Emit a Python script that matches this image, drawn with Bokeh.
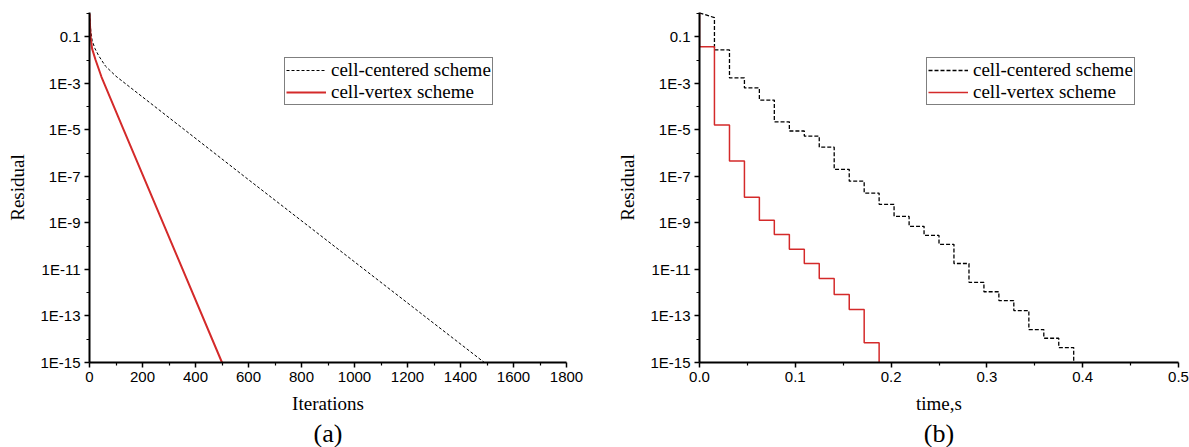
from bokeh.plotting import figure
from bokeh.layouts import row
from bokeh.models import (Range1d, FixedTicker, CustomJSTickFormatter, Legend,
                          LegendItem, Title, PrintfTickFormatter)
from bokeh.embed import file_html
from bokeh.resources import INLINE

# ---------------- data: (a) residual vs iterations ----------------
iter_cc = [0, 5, 10, 20, 35, 60, 100, 589, 1490]
res_cc = [1.0, 0.18, 0.07, 0.032, 0.015, 5.5e-3, 2.0e-3, 9e-8, 1e-15]
iter_cv = [0, 2, 4, 10, 23, 45, 129, 500]
res_cv = [1.0, 0.3, 0.1, 0.03, 0.01, 1.9e-3, 1e-5, 1e-15]

# ---------------- data: (b) residual vs time (staircase) ----------------
times = [0.0, 0.0156, 0.0313, 0.0469, 0.0625, 0.0781, 0.0938, 0.1094, 0.125,
         0.1406, 0.1563, 0.1719, 0.1875, 0.2031, 0.2188, 0.2344, 0.25, 0.2656,
         0.2813, 0.2969, 0.3125, 0.3281, 0.3438, 0.3594, 0.375, 0.3906]
cc_first = [1.07, 0.66]          # first (sloped) segment of cell-centered
cc_steps = [2.7e-2, 1.7e-3, 6.3e-4, 1.9e-4, 2.2e-5, 8.9e-6, 5.4e-6, 1.8e-6,
            2.0e-7, 6.2e-8, 1.9e-8, 6.3e-9, 1.9e-9, 7.1e-10, 2.9e-10, 1.2e-10,
            1.8e-11, 2.8e-12, 1.1e-12, 4.6e-13, 1.7e-13, 2.6e-14, 1.1e-14,
            4.4e-15, 1e-15]      # values from times[1] .. times[25]
cv_start = 1.07
cv_steps = [0.037, 1.6e-5, 4.6e-7, 1.26e-8, 1.3e-9, 3.2e-10, 7.3e-11, 1.8e-11,
            4.1e-12, 8.3e-13, 1.9e-13, 7.1e-15, 1e-15]  # times[0] .. times[12]

y_major = [1e-15, 1e-13, 1e-11, 1e-9, 1e-7, 1e-5, 1e-3, 0.1]
y_minor = [1e-14, 1e-12, 1e-10, 1e-8, 1e-6, 1e-4, 1e-2, 1.0]
xa_major = [0, 200, 400, 600, 800, 1000, 1200, 1400, 1600, 1800]
xa_minor = [100, 300, 500, 700, 900, 1100, 1300, 1500, 1700]
xb_major = [0.0, 0.1, 0.2, 0.3, 0.4, 0.5]
xb_minor = [0.05, 0.15, 0.25, 0.35, 0.45]

RED = "#d42a2a"
SERIF = "Liberation Serif"
SANS = "Liberation Sans"


def staircase(ts, vals, start_x=None, start_y=None):
    xs, ys = [], []
    if start_x is not None:
        xs += list(start_x)
        ys += list(start_y)
    n = len(vals)
    for k in range(n - 1):
        xs += [ts[k], ts[k + 1]]
        ys += [vals[k], vals[k]]
    xs.append(ts[n - 1])
    ys.append(vals[n - 1])
    return xs, ys


fmt_js = """
const e = Math.round(Math.log10(tick));
if (e == -1) { return '0.1'; }
return '1E' + e;
"""


def make_fig(width, bl, br, xr, xmaj, xmin, xlabel, title):
    p = figure(width=width, height=447, y_axis_type="log",
               x_range=xr, y_range=Range1d(1e-15, 1.1),
               output_backend="svg", toolbar_location=None,
               min_border_left=bl, min_border_right=br,
               min_border_top=12, min_border_bottom=85)
    p.outline_line_color = None
    p.xgrid.visible = False
    p.ygrid.visible = False
    p.background_fill_color = "white"
    p.border_fill_color = "white"
    p.xaxis.ticker = FixedTicker(ticks=xmaj, minor_ticks=xmin)
    p.yaxis.ticker = FixedTicker(ticks=y_major, minor_ticks=y_minor)
    p.yaxis.formatter = CustomJSTickFormatter(code=fmt_js)
    for ax in (p.xaxis, p.yaxis):
        ax.axis_line_width = 2
        ax.axis_line_color = "black"
        ax.major_tick_line_color = "black"
        ax.minor_tick_line_color = "black"
        ax.major_tick_line_width = 1.5
        ax.minor_tick_line_width = 1.2
        ax.major_tick_in = 0
        ax.major_tick_out = 5
        ax.minor_tick_in = 0
        ax.minor_tick_out = 3
        ax.major_label_text_font = SANS
        ax.major_label_text_font_size = "15px"
        ax.major_label_text_color = "black"
        ax.major_label_standoff = 4
        ax.axis_label_text_font = SERIF
        ax.axis_label_text_font_size = "19px"
        ax.axis_label_text_font_style = "normal"
        ax.axis_label_text_color = "black"
    p.yaxis.axis_label = "Residual"
    p.yaxis.axis_label_standoff = 9
    p.xaxis.axis_label = xlabel
    p.xaxis.axis_label_standoff = 8
    t = Title(text=title, align="center", text_font=SERIF,
              text_font_size="26px", text_font_style="normal",
              text_color="black", standoff=0, offset=0)
    p.add_layout(t, "below")
    return p


def add_legend(p, r1, r2, x, y):
    leg = Legend(items=[LegendItem(label="cell-centered scheme", renderers=[r1]),
                        LegendItem(label="cell-vertex scheme", renderers=[r2])],
                 location=(x, y))
    leg.border_line_color = "black"
    leg.border_line_width = 1
    leg.background_fill_color = "white"
    leg.background_fill_alpha = 1
    leg.label_text_font = SERIF
    leg.label_text_font_size = "19px"
    leg.label_text_color = "black"
    leg.glyph_width = 40
    leg.glyph_height = 18
    leg.label_height = 18
    leg.label_standoff = 5
    leg.padding = 1
    leg.spacing = 0
    leg.margin = 0
    p.add_layout(leg)


# ---------------- (a) ----------------
p1 = make_fig(590, 89, 24, Range1d(0, 1800), xa_major, xa_minor, "Iterations", "(a)")
a1 = p1.line(iter_cc, res_cc, line_color="black", line_width=1, line_dash="3 2")
a2 = p1.line(iter_cv, res_cv, line_color=RED, line_width=2)
add_legend(p1, a1, a2, 195, 257)

# ---------------- (b) ----------------
p2 = make_fig(599, 109, 11, Range1d(0, 0.5), xb_major, xb_minor, "time,s", "(b)")
p2.xaxis.formatter = PrintfTickFormatter(format="%.1f")
bx_cc, by_cc = staircase(times[1:], cc_steps, start_x=[times[0], times[1]], start_y=cc_first)
bx_cv, by_cv = staircase(times, cv_steps, start_x=[times[0]], start_y=[cv_start])
b1 = p2.line(bx_cc, by_cc, line_color="black", line_width=1.3, line_dash="4 2")
b2 = p2.line(bx_cv, by_cv, line_color=RED, line_width=1.5)
add_legend(p2, b1, b2, 227, 257)

layout = row(p1, p2)
open("out.html", "w").write(file_html(layout, INLINE))
